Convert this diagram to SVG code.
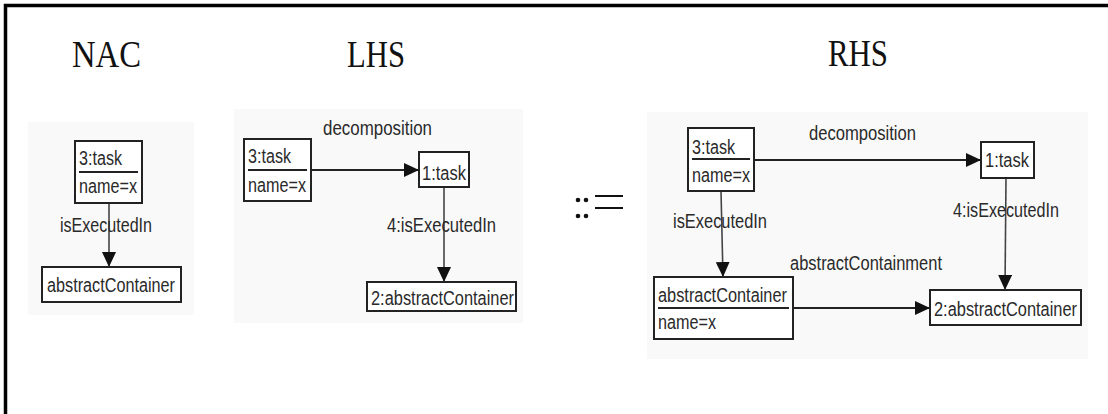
<svg xmlns="http://www.w3.org/2000/svg" width="1108" height="414" viewBox="0 0 1108 414">
<style>
.panel{fill:#f9f9f9;stroke:none}
.box{fill:#ffffff;stroke:#222;stroke-width:2}
.sep{stroke:#222;stroke-width:2}
.t{font-family:"Liberation Sans",Arial,sans-serif;font-size:20px;fill:#2a2a2a}
.title{font-family:"Liberation Serif","Times New Roman",serif;font-size:38px;fill:#111}
.edge{stroke:#222;stroke-width:2;fill:none;marker-end:url(#arr)}
.edgev{stroke:#444;stroke-width:1.6;fill:none;marker-end:url(#arr)}
</style>
<defs>
<marker id="arr" viewBox="0 0 15 14" refX="15" refY="7" markerWidth="15" markerHeight="14" markerUnits="userSpaceOnUse" orient="auto">
<path d="M0,0 L15,7 L0,14 z" fill="#111"/>
</marker>
</defs>
<rect x="0" y="0" width="1108" height="414" fill="#ffffff"/>
<path d="M5.5,414 V5.5 H1108" fill="none" stroke="#000" stroke-width="3.5"/>
<g id="panels">
<rect class="panel" x="28" y="122" width="166" height="193"/>
<rect class="panel" x="234" y="109" width="289" height="214"/>
<rect class="panel" x="647" y="112" width="441" height="247"/>
</g>
<g id="titles">
<text class="title" x="72" y="67" textLength="69" lengthAdjust="spacingAndGlyphs">NAC</text>
<text class="title" x="347" y="67" textLength="58" lengthAdjust="spacingAndGlyphs">LHS</text>
<text class="title" x="828" y="66" textLength="60" lengthAdjust="spacingAndGlyphs">RHS</text>
</g>
<g id="assign">
<circle cx="578" cy="200" r="2.3" fill="#111"/>
<circle cx="586" cy="200" r="2.3" fill="#111"/>
<circle cx="578" cy="216" r="2.3" fill="#111"/>
<circle cx="586" cy="216" r="2.3" fill="#111"/>
<line x1="595" y1="196" x2="623" y2="196" stroke="#111" stroke-width="2"/>
<line x1="595" y1="208" x2="623" y2="208" stroke="#111" stroke-width="2"/>
</g>
<g id="connectors">
<line class="edgev" x1="109" y1="203" x2="109" y2="267"/>
<line class="edge" x1="311" y1="170" x2="419" y2="170"/>
<line class="edgev" x1="444" y1="187" x2="444" y2="282"/>
<line class="edge" x1="754" y1="160" x2="981" y2="160"/>
<line class="edgev" x1="721" y1="191" x2="723" y2="277"/>
<line class="edgev" x1="1006" y1="178" x2="1005" y2="290"/>
<line class="edge" x1="793" y1="308" x2="930" y2="308"/>
<text class="t" x="60" y="232" textLength="92" lengthAdjust="spacingAndGlyphs">isExecutedIn</text>
<text class="t" x="323" y="135" textLength="109" lengthAdjust="spacingAndGlyphs">decomposition</text>
<text class="t" x="387" y="232" textLength="109" lengthAdjust="spacingAndGlyphs">4:isExecutedIn</text>
<text class="t" x="809" y="140" textLength="107" lengthAdjust="spacingAndGlyphs">decomposition</text>
<text class="t" x="673" y="228" textLength="94" lengthAdjust="spacingAndGlyphs">isExecutedIn</text>
<text class="t" x="953" y="217" textLength="106" lengthAdjust="spacingAndGlyphs">4:isExecutedIn</text>
<text class="t" x="790" y="270" textLength="152" lengthAdjust="spacingAndGlyphs">abstractContainment</text>
</g>
<g id="nac-task3">
<rect class="box" x="75" y="141" width="67" height="62"/>
<line class="sep" x1="79" y1="172" x2="138" y2="172"/>
<text class="t" x="79" y="165" textLength="43" lengthAdjust="spacingAndGlyphs">3:task</text>
<text class="t" x="79" y="193" textLength="58" lengthAdjust="spacingAndGlyphs">name=x</text>
</g>
<g id="nac-container">
<rect class="box" x="42" y="267" width="139" height="35"/>
<text class="t" x="47" y="292" textLength="128" lengthAdjust="spacingAndGlyphs">abstractContainer</text>
</g>
<g id="lhs-task3">
<rect class="box" x="244" y="139" width="67" height="62"/>
<line class="sep" x1="248" y1="170" x2="307" y2="170"/>
<text class="t" x="248" y="163" textLength="43" lengthAdjust="spacingAndGlyphs">3:task</text>
<text class="t" x="248" y="192" textLength="58" lengthAdjust="spacingAndGlyphs">name=x</text>
</g>
<g id="lhs-task1">
<rect class="box" x="419" y="152" width="50" height="35"/>
<text class="t" x="422" y="180" textLength="44" lengthAdjust="spacingAndGlyphs">1:task</text>
</g>
<g id="lhs-container2">
<rect class="box" x="367" y="282" width="149" height="29"/>
<text class="t" x="371" y="305" textLength="143" lengthAdjust="spacingAndGlyphs">2:abstractContainer</text>
</g>
<g id="rhs-task3">
<rect class="box" x="688" y="128" width="66" height="63"/>
<line class="sep" x1="692" y1="159" x2="750" y2="159"/>
<text class="t" x="692" y="154" textLength="43" lengthAdjust="spacingAndGlyphs">3:task</text>
<text class="t" x="692" y="182" textLength="58" lengthAdjust="spacingAndGlyphs">name=x</text>
</g>
<g id="rhs-task1">
<rect class="box" x="981" y="142" width="53" height="36"/>
<text class="t" x="985" y="167" textLength="44" lengthAdjust="spacingAndGlyphs">1:task</text>
</g>
<g id="rhs-container">
<rect class="box" x="654" y="277" width="139" height="62"/>
<line class="sep" x1="658" y1="308" x2="789" y2="308"/>
<text class="t" x="658" y="302" textLength="129" lengthAdjust="spacingAndGlyphs">abstractContainer</text>
<text class="t" x="658" y="329" textLength="58" lengthAdjust="spacingAndGlyphs">name=x</text>
</g>
<g id="rhs-container2">
<rect class="box" x="930" y="290" width="151" height="35"/>
<text class="t" x="934" y="316" textLength="143" lengthAdjust="spacingAndGlyphs">2:abstractContainer</text>
</g>
</svg>
